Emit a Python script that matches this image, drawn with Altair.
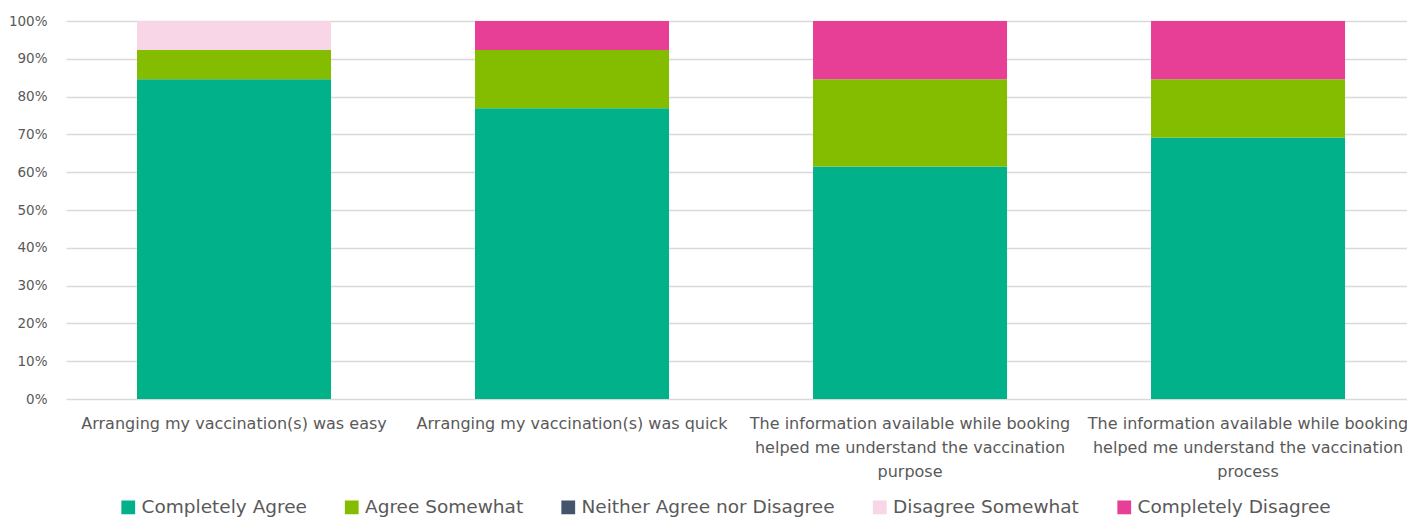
import altair as alt
import pandas as pd

questions = [
    ["Arranging my vaccination(s) was easy"],
    ["Arranging my vaccination(s) was quick"],
    ["The information available while booking", "helped me understand the vaccination", "purpose"],
    ["The information available while booking", "helped me understand the vaccination", "process"],
]
question_keys = ["Q1", "Q2", "Q3", "Q4"]
responses = ["Completely Agree", "Agree Somewhat", "Neither Agree nor Disagree",
             "Disagree Somewhat", "Completely Disagree"]
colors = ["#00B18A", "#84BD00", "#44546A", "#F9D5E8", "#E83F96"]

completely_agree = [0.846, 0.769, 0.615, 0.692]
agree_somewhat = [0.077, 0.154, 0.231, 0.154]
neither = [0.0, 0.0, 0.0, 0.0]
disagree_somewhat = [0.077, 0.0, 0.0, 0.0]
completely_disagree = [0.0, 0.077, 0.154, 0.154]

series = [completely_agree, agree_somewhat, neither, disagree_somewhat, completely_disagree]
rows = []
for r_i, (resp, vals) in enumerate(zip(responses, series)):
    for q_i, v in enumerate(vals):
        rows.append({"q": question_keys[q_i], "response": resp, "value": v, "ord": r_i})
df = pd.DataFrame(rows)

label_expr = ("datum.value == 'Q1' ? " + repr(questions[0]) + " : datum.value == 'Q2' ? " +
              repr(questions[1]) + " : datum.value == 'Q3' ? " + repr(questions[2]) +
              " : " + repr(questions[3]))

FONT = "DejaVu Sans"

chart = alt.Chart(df).mark_bar().encode(
    x=alt.X("q:N", sort=question_keys, title=None,
            scale=alt.Scale(paddingInner=0.426, paddingOuter=0.1967, align=0.534),
            axis=alt.Axis(labelAngle=0, labelExpr=label_expr, labelFontSize=16,
                          labelColor="#595959", labelLineHeight=24, labelPadding=16,
                          labelLimit=0, ticks=False, domain=False, labelFont=FONT,
                          labelOverlap=False)),
    y=alt.Y("value:Q", stack="zero", title=None,
            scale=alt.Scale(domain=[0, 1], nice=False),
            axis=alt.Axis(format=".0%", values=[i / 10 for i in range(11)],
                          labelFontSize=13.5, labelColor="#595959", labelPadding=19,
                          ticks=False, domain=False, gridColor="#d9d9d9",
                          gridWidth=1.5, labelFont=FONT)),
    color=alt.Color("response:N", sort=responses,
                    scale=alt.Scale(domain=responses, range=colors),
                    legend=alt.Legend(title=None, orient="none", direction="horizontal",
                                      legendX=53, legendY=477, symbolType="square",
                                      symbolSize=190, symbolStrokeWidth=0,
                                      labelFontSize=18.5, labelColor="#595959",
                                      labelFont=FONT, columnPadding=35.5,
                                      labelOffset=4, symbolOffset=0, labelLimit=400)),
    order=alt.Order("ord:Q", sort="ascending"),
).properties(
    width=1341, height=378,
    padding={"left": 66, "top": 21, "right": 0, "bottom": 118},
    autosize=alt.AutoSizeParams(type="none"),
).configure_view(stroke=None)

chart.save("out.html", embed_options={"renderer": "svg", "actions": False})
